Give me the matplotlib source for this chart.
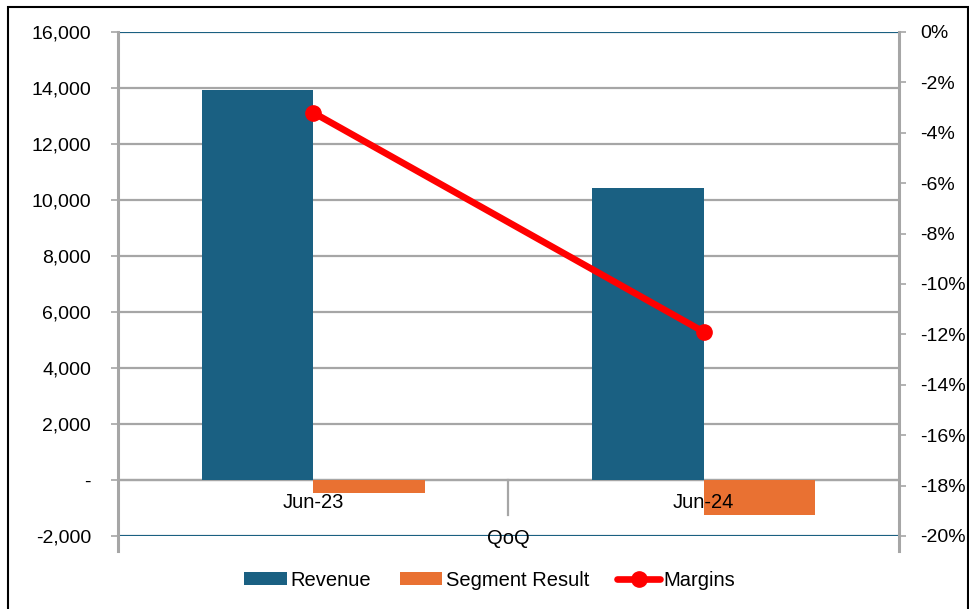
import matplotlib.pyplot as plt
from matplotlib.ticker import FuncFormatter, MultipleLocator
from matplotlib.lines import Line2D
from matplotlib.patches import Rectangle

categories = ["Jun-23", "Jun-24"]
revenue = [13930, 10430]
segment_result = [-450, -1250]
margins = [-3.2, -11.9]

BLUE = "#1a6082"
ORANGE = "#e97132"
GRID = "#a6a6a6"
FS = 14
plt.rcParams['font.family'] = ['Liberation Sans', 'DejaVu Sans']

fig = plt.figure(figsize=(9.7, 6.09), dpi=100)
ax1 = fig.add_axes([118/970, 1 - 536/609, 781/970, 504/609])
ax2 = ax1.twinx()

x = list(range(len(categories)))
w = 0.285
ax1.bar([i - w/2 for i in x], revenue, w, color=BLUE, label="Revenue", zorder=3)
ax1.bar([i + w/2 for i in x], segment_result, w, color=ORANGE, label="Segment Result", zorder=3)
ax2.plot(x, margins, color="#ff0000", lw=4.8, marker="o", ms=11, label="Margins",
         solid_capstyle="round", zorder=4)

ax1.set_xlim(-0.5, 1.5)
ax1.set_ylim(-2000, 16000)
ax2.set_ylim(-20, 0)
ax1.yaxis.set_major_locator(MultipleLocator(2000))
ax2.yaxis.set_major_locator(MultipleLocator(2))
ax1.yaxis.set_major_formatter(FuncFormatter(lambda v, p: "-" if v == 0 else f"{v:,.0f}"))
ax2.yaxis.set_major_formatter(FuncFormatter(lambda v, p: f"{v:.0f}%"))

ax1.grid(axis="y", color=GRID, lw=1.6, zorder=0)
ax1.axhline(16000, color=BLUE, lw=1.5, zorder=2)
ax1.axhline(-2000, color=BLUE, lw=1.5, zorder=2)
ax1.axhline(0, color=GRID, lw=1.6, zorder=2)

for ax in (ax1, ax2):
    for s in ax.spines.values():
        s.set_visible(False)
ax1.tick_params(axis="y", length=5, width=1.2, color=GRID, labelsize=FS, pad=14.5)
ax2.tick_params(axis="y", length=5, width=1.2, color=GRID, labelsize=FS, pad=10)
for xa in (0, 1):
    ax1.add_line(Line2D([xa, xa], [-0.03, 1], transform=ax1.transAxes, color=GRID,
                        lw=2.2, clip_on=False, zorder=5))

ax1.set_xticks([])
ax1.plot([0.5, 0.5], [0, -1250], color=GRID, lw=1.6, clip_on=False, zorder=2)
for i, c in enumerate(categories):
    ax1.text(i, -820, c, ha="center", va="center", fontsize=14.5, zorder=6)
ax1.text(0.5, -2080, "QoQ", ha="center", va="center", fontsize=14.5, zorder=6)

h1, l1 = ax1.get_legend_handles_labels()
h2, l2 = ax2.get_legend_handles_labels()
fig.legend(h1 + h2, l1 + l2, loc="center", bbox_to_anchor=(490/970, 1 - 580/609),
           ncol=3, frameon=False, fontsize=14.5, handlelength=2.1, handleheight=0.65,
           handletextpad=0.2, columnspacing=1.4)

fig.patches.append(Rectangle((8/970, -0.1), 960/970, 1.1 - 7/609, transform=fig.transFigure,
                             fill=False, edgecolor="black", lw=1.5))

fig.savefig("out.png", dpi=100)
